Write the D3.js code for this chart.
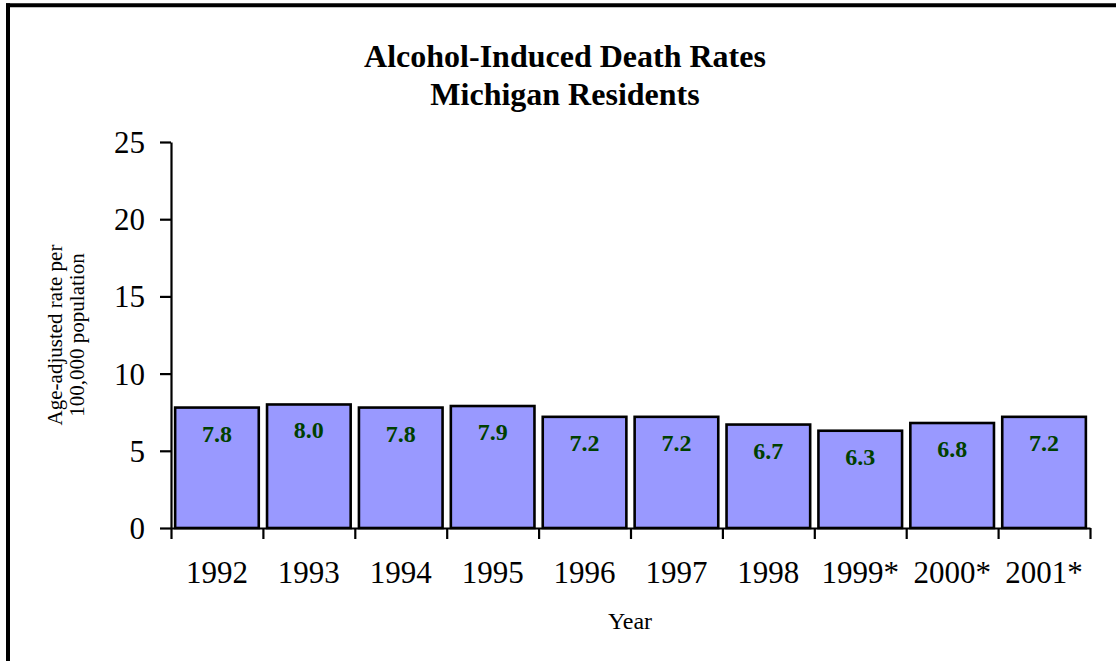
<!DOCTYPE html>
<html>
<head>
<meta charset="utf-8">
<script src="https://cdn.jsdelivr.net/npm/d3@7"></script>
<style>
  html, body { margin: 0; padding: 0; background: #fff; }
  svg { display: block; }
  text { font-family: "Times New Roman", "Liberation Serif", serif; fill: #000; }
</style>
</head>
<body>
<div id="chart"></div>
<script>
// chart data
const years = ['1992', '1993', '1994', '1995', '1996', '1997', '1998', '1999*', '2000*', '2001*'];
const rates = [7.8, 8.0, 7.8, 7.9, 7.2, 7.2, 6.7, 6.3, 6.8, 7.2];
const yTicks = [0, 5, 10, 15, 20, 25];
const titleLines = ['Alcohol-Induced Death Rates', 'Michigan Residents'];
const yTitleLines = ['Age-adjusted rate per', '100,000 population'];
const xTitle = 'Year';

const width = 1116;
const height = 661;
const plot = {left: 171, right: 1090, top: 142, bottom: 528};

const svg = d3.select('#chart')
  .append('svg')
  .attr('width', width)
  .attr('height', height);

// frame (top + left edge only)
svg.append('line')
  .attr('x1', 6).attr('x2', width)
  .attr('y1', 5.3).attr('y2', 5.3)
  .attr('stroke', '#000').attr('stroke-width', 4);
svg.append('line')
  .attr('x1', 8).attr('x2', 8)
  .attr('y1', 3.3).attr('y2', height)
  .attr('stroke', '#000').attr('stroke-width', 4);

const x = d3.scaleBand()
  .domain(years)
  .range([plot.left, plot.right])
  .paddingInner(0.09)
  .paddingOuter(0.045);

const y = d3.scaleLinear()
  .domain([0, 25])
  .range([plot.bottom, plot.top]);

// bars
svg.append('g')
  .selectAll('rect')
  .data(rates)
  .enter()
  .append('rect')
  .attr('x', (d, i) => x(years[i]))
  .attr('y', d => y(d))
  .attr('width', x.bandwidth())
  .attr('height', d => y(0) - y(d))
  .attr('fill', '#9999ff')
  .attr('stroke', '#000')
  .attr('stroke-width', 2.6);

// value labels
svg.append('g')
  .selectAll('text')
  .data(rates)
  .enter()
  .append('text')
  .attr('x', (d, i) => x(years[i]) + x.bandwidth() / 2)
  .attr('y', d => y(d) + 34)
  .attr('text-anchor', 'middle')
  .style('font-size', '24px')
  .style('font-weight', 'bold')
  .style('fill', '#004000')
  .text(d => d.toFixed(1));

// y axis
const yAxis = svg.append('g')
  .attr('transform', 'translate(' + plot.left + ',0)')
  .call(d3.axisLeft(y).tickValues(yTicks).tickSize(11).tickSizeOuter(0).tickPadding(15));
yAxis.selectAll('text').style('font-size', '31px').attr('dy', '0.34em');

// x axis: ticks on category boundaries
const xEdges = d3.scaleLinear().domain([0, years.length]).range([plot.left, plot.right]);
const xAxis = svg.append('g')
  .attr('transform', 'translate(0,' + plot.bottom + ')')
  .call(d3.axisBottom(xEdges).ticks(years.length).tickFormat('').tickSize(11).tickSizeOuter(0));

// x labels at category centres
const xLabels = svg.append('g')
  .attr('transform', 'translate(0,' + plot.bottom + ')')
  .call(d3.axisBottom(x).tickSize(0).tickPadding(33));
xLabels.select('.domain').remove();
xLabels.selectAll('text').style('font-size', '31px').attr('dy', '0.71em');

svg.selectAll('.domain').attr('stroke', '#000').attr('stroke-width', 2.2);
svg.selectAll('.tick line').attr('stroke', '#000').attr('stroke-width', 2.2);

// titles
svg.append('text')
  .attr('text-anchor', 'middle')
  .style('font-size', '32px')
  .style('font-weight', 'bold')
  .selectAll('tspan')
  .data(titleLines)
  .enter()
  .append('tspan')
  .attr('x', 565)
  .attr('y', (d, i) => 67 + i * 38)
  .text(d => d);

svg.append('text')
  .attr('transform', 'translate(0,335) rotate(-90)')
  .attr('text-anchor', 'middle')
  .style('font-size', '21px')
  .selectAll('tspan')
  .data(yTitleLines)
  .enter()
  .append('tspan')
  .attr('x', 0)
  .attr('y', (d, i) => 62 + i * 22)
  .text(d => d);

svg.append('text')
  .attr('x', 630)
  .attr('y', 629)
  .attr('text-anchor', 'middle')
  .style('font-size', '24px')
  .text(xTitle);
</script>
</body>
</html>
